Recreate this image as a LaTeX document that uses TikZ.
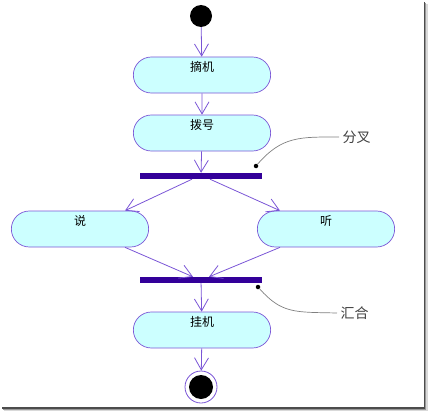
\documentclass[tikz,border=0pt]{standalone}
\usepackage{fontspec}
\newfontfamily\cjk{Noto Sans CJK SC}
\usepackage{tikz}
\usetikzlibrary{shapes.misc,arrows.meta}
\definecolor{actfill}{HTML}{CCFFFF}
\definecolor{actline}{HTML}{7A55D6}
\definecolor{barcol}{HTML}{330099}
\definecolor{notecol}{HTML}{808080}

\begin{document}
\begin{tikzpicture}[x=1pt, y=-1pt,
    activity/.style={rounded rectangle, draw=actline, fill=actfill, minimum width=144pt,
        inner ysep=0pt, text height=14pt, text depth=22pt, line width=0.7pt,
        font=\cjk\fontsize{12}{12}\selectfont},
    bar/.style={rectangle, fill=barcol, minimum width=122pt, minimum height=6pt, inner sep=0pt},
    flow/.style={-{Straight Barb[length=12pt,width=14pt]}, draw=actline, line width=0.8pt},
    pin/.style={circle, fill=black, minimum size=4.5pt, inner sep=0pt},
    note/.style={draw=notecol, line width=0.7pt},
    notetext/.style={font=\cjk\fontsize{14}{14}\selectfont, text=black!75}
]
    \useasboundingbox (0,0) rectangle (428,412);
    % shadow frame
    \draw[black!70, line width=1.2pt] (424.5,2) -- (424.5,408) -- (2,408);
    \draw[black!40, line width=1.2pt] (425.8,3) -- (425.8,409.3) -- (3,409.3);
    \draw[black!15, line width=1.2pt] (427,4) -- (427,410.5) -- (4,410.5);

    \node[circle, fill=black, minimum size=22pt, inner sep=0pt] (start) at (201,16) {};
    \node[activity] (pickup) at (202,75) {摘机};
    \node[activity] (dial) at (202,133) {拨号};
    \node[bar] (fork) at (201,176) {};
    \node[activity] (talk) at (80,229) {说};
    \node[activity] (listen) at (326,229) {听};
    \node[bar] (join) at (201,280) {};
    \node[activity] (hangup) at (202,330) {挂机};
    \node[circle, draw=actline, fill=white, line width=0.8pt, minimum size=32pt, inner sep=0pt] (stop) at (201,387) {};
    \node[circle, fill=black, minimum size=24pt, inner sep=0pt] at (stop) {};

    \draw[flow] (start) -- (pickup);
    \draw[flow] (pickup) -- (dial);
    \draw[flow] (dial) -- (fork);
    \draw[flow] ([xshift=-9pt]fork.south) -- ([xshift=45pt]talk.north);
    \draw[flow] ([xshift=9pt]fork.south) -- ([xshift=-46pt]listen.north);
    \draw[flow] ([xshift=45pt]talk.south) -- ([xshift=-8pt]join.north);
    \draw[flow] ([xshift=-46pt]listen.south) -- ([xshift=8pt]join.north);
    \draw[flow] (join) -- (hangup);
    \draw[flow] (hangup) -- (stop);

    % notes
    \node[pin] (forkpin) at (256,166) {};
    \node[notetext, anchor=west] (forknote) at (339,137) {分叉};
    \draw[note] (forkpin) .. controls (282,136) and (300,137) .. (forknote.west);
    \node[pin] (joinpin) at (258,287) {};
    \node[notetext, anchor=west] (joinnote) at (337,313) {汇合};
    \draw[note] (joinpin) .. controls (282,314) and (295,312) .. (joinnote.west);
\end{tikzpicture}
\end{document}
